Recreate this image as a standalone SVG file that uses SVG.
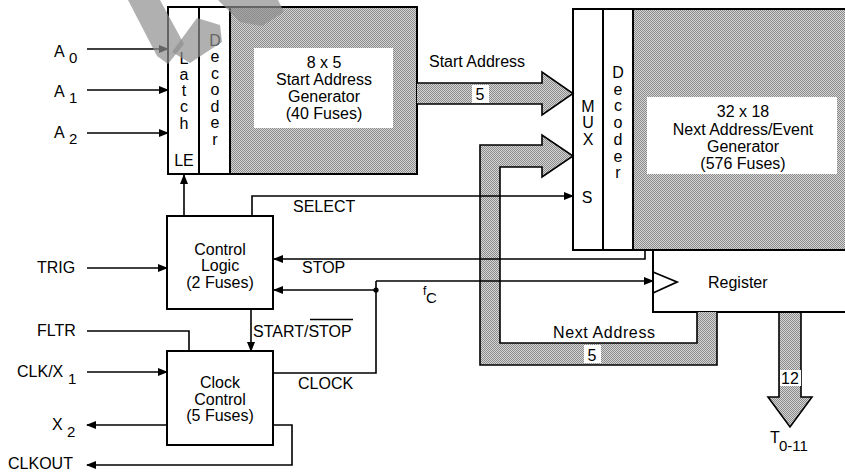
<svg xmlns="http://www.w3.org/2000/svg" width="845" height="472" viewBox="0 0 845 472">
<defs>
<pattern id="ht" width="2" height="2" patternUnits="userSpaceOnUse">
<rect width="2" height="2" fill="#d6d6d6"/>
<rect width="1" height="1" fill="#8a8a8a"/>
<rect x="1" y="1" width="1" height="1" fill="#8a8a8a"/>
</pattern>
<marker id="ah" markerWidth="10" markerHeight="8" refX="9" refY="4" orient="auto" markerUnits="userSpaceOnUse">
<path d="M0,0 L10,4 L0,8 Z" fill="#000"/>
</marker>
</defs>
<style>
.box{fill:#fff;stroke:#000;stroke-width:2}
.sh{fill:url(#ht);stroke:#000;stroke-width:2}
.wb{fill:#fff;stroke:none}
.ln{fill:none;stroke:#000;stroke-width:1.6}
.ar{marker-end:url(#ah)}
.bus{fill:url(#ht);stroke:#000;stroke-width:1.6;stroke-linejoin:miter}
text{font-family:"Liberation Sans",Arial,Helvetica,sans-serif;font-size:16px;fill:#000}
.c{text-anchor:middle}
.sub{font-size:15px}
.wm{fill:#8f8f8f;opacity:0.7}
</style>
<rect width="845" height="472" fill="#fff"/>

<g id="start-address-generator">
<rect class="box" x="168" y="7" width="249" height="167"/>
<rect class="sh" x="230" y="7" width="187" height="167"/>
<rect class="wb" x="254" y="48" width="139" height="80"/>
<text class="c" x="324" y="68">8 x 5</text>
<text class="c" x="324" y="85">Start Address</text>
<text class="c" x="324" y="102">Generator</text>
<text class="c" x="324" y="119">(40 Fuses)</text>
</g>
<g id="latch">
<rect class="box" x="168" y="7" width="31" height="167"/>
<text class="c" x="184" y="64">L</text>
<text class="c" x="184" y="80">a</text>
<text class="c" x="184" y="96">t</text>
<text class="c" x="184" y="112">c</text>
<text class="c" x="184" y="129">h</text>
<text class="c" x="184" y="166">LE</text>
</g>
<g id="decoder-1">
<rect class="box" x="199" y="7" width="31" height="167"/>
<text class="c" x="215" y="46">D</text>
<text class="c" x="215" y="62">e</text>
<text class="c" x="215" y="79">c</text>
<text class="c" x="215" y="95">o</text>
<text class="c" x="215" y="112">d</text>
<text class="c" x="215" y="128">e</text>
<text class="c" x="215" y="145">r</text>
</g>

<g id="next-address-generator">
<rect class="box" x="573" y="9" width="290" height="241"/>
<rect class="sh" x="633" y="9" width="230" height="241"/>
<rect class="wb" x="647" y="97" width="190" height="77"/>
<text class="c" x="743" y="117">32 x 18</text>
<text class="c" x="743" y="135">Next Address/Event</text>
<text class="c" x="743" y="152">Generator</text>
<text class="c" x="743" y="169">(576 Fuses)</text>
</g>
<g id="mux">
<rect class="box" x="573" y="9" width="30" height="241"/>
<text class="c" x="588" y="112">M</text>
<text class="c" x="588" y="128">U</text>
<text class="c" x="588" y="145">X</text>
<text class="c" x="587" y="203">S</text>
</g>
<g id="decoder-2">
<rect class="box" x="603" y="9" width="30" height="241"/>
<text class="c" x="618" y="78">D</text>
<text class="c" x="618" y="95">e</text>
<text class="c" x="618" y="111">c</text>
<text class="c" x="618" y="128">o</text>
<text class="c" x="618" y="145">d</text>
<text class="c" x="618" y="162">e</text>
<text class="c" x="618" y="178">r</text>
</g>

<g id="register">
<rect class="box" x="653" y="250" width="210" height="62"/>
<path d="M653,272 L677,282 L653,293" fill="none" stroke="#000" stroke-width="1.8"/>
<text x="708" y="288">Register</text>
</g>

<g id="control-logic">
<rect class="box" x="167" y="216" width="106" height="93"/>
<text class="c" x="220" y="255">Control</text>
<text class="c" x="220" y="271">Logic</text>
<text class="c" x="220" y="288">(2 Fuses)</text>
</g>

<g id="clock-control">
<rect class="box" x="167" y="351" width="106" height="94"/>
<text class="c" x="220" y="388">Clock</text>
<text class="c" x="220" y="405">Control</text>
<text class="c" x="220" y="421">(5 Fuses)</text>
</g>

<g id="connectors">
<path class="bus" d="M417,83 L542,83 L542,72 L573,93.5 L542,115 L542,104 L417,104"/>
<path class="bus" d="M717,312 L717,365 L480,365 L480,145 L542,145 L542,135 L573,156 L542,177 L542,167 L500,167 L500,343 L697,343 L697,312"/>
<path class="bus" d="M779,313 L779,397 L768,397 L790,427 L812,397 L801,397 L801,313"/>
<rect class="wb" x="472" y="85" width="17" height="18"/>
<text class="c" x="480" y="100">5</text>
<rect class="wb" x="584" y="345" width="17" height="18"/>
<text class="c" x="592" y="361">5</text>
<rect class="wb" x="780" y="370" width="21" height="16"/>
<text class="c" x="790" y="384">12</text>
<text x="429" y="67">Start Address</text>
<text x="553" y="338" textLength="102">Next Address</text>

<line class="ln ar" x1="87" y1="49" x2="168" y2="49"/>
<line class="ln ar" x1="87" y1="90" x2="168" y2="90"/>
<line class="ln ar" x1="87" y1="133" x2="168" y2="133"/>
<text x="54" y="57">A</text><text class="sub" x="69" y="63">0</text>
<text x="54" y="97">A</text><text class="sub" x="69" y="103">1</text>
<text x="54" y="138">A</text><text class="sub" x="69" y="144">2</text>

<line class="ln ar" x1="184" y1="216" x2="184" y2="175"/>
<polyline class="ln ar" points="252,216 252,196 573,196"/>
<text x="293" y="212">SELECT</text>

<line class="ln ar" x1="87" y1="268" x2="167" y2="268"/>
<text x="37" y="273">TRIG</text>

<polyline class="ln ar" points="645,250 645,259 274,259"/>
<text x="302" y="273">STOP</text>

<polyline class="ln" points="273,373 376,373 376,281"/>
<line class="ln ar" x1="376" y1="281" x2="653" y2="281"/>
<line class="ln ar" x1="376" y1="290" x2="274" y2="290"/>
<circle cx="376" cy="290" r="2.6" fill="#000"/>
<text x="423" y="295" style="font-size:12px">f</text><text class="sub" x="426" y="303">C</text>
<text x="298" y="389">CLOCK</text>

<line class="ln ar" x1="251" y1="309" x2="251" y2="351"/>
<text x="253" y="337">START/STOP</text>
<line x1="310" y1="319.5" x2="353" y2="319.5" stroke="#000" stroke-width="1.3"/>

<polyline class="ln" points="87,331 189,331 189,351"/>
<text x="37" y="336">FLTR</text>

<line class="ln ar" x1="87" y1="372" x2="167" y2="372"/>
<text x="17" y="377">CLK/X</text><text class="sub" x="68" y="384">1</text>

<line class="ln ar" x1="167" y1="425" x2="87" y2="425"/>
<text x="52" y="430">X</text><text class="sub" x="67" y="437">2</text>

<polyline class="ln ar" points="273,425 292,425 292,465 87,465"/>
<text x="8" y="469">CLKOUT</text>

<text x="770" y="443">T</text><text class="sub" x="779" y="451">0-11</text>
</g>

<g id="watermark">
<polygon class="wm" points="128,0 160,0 184,44 168,64 157,56"/>
<polygon class="wm" points="197,18 220,25 222,42 190,63 172,52"/>
<polygon class="wm" points="218,0 278,0 284,12 262,26 240,22 228,10"/>
</g>
</svg>
